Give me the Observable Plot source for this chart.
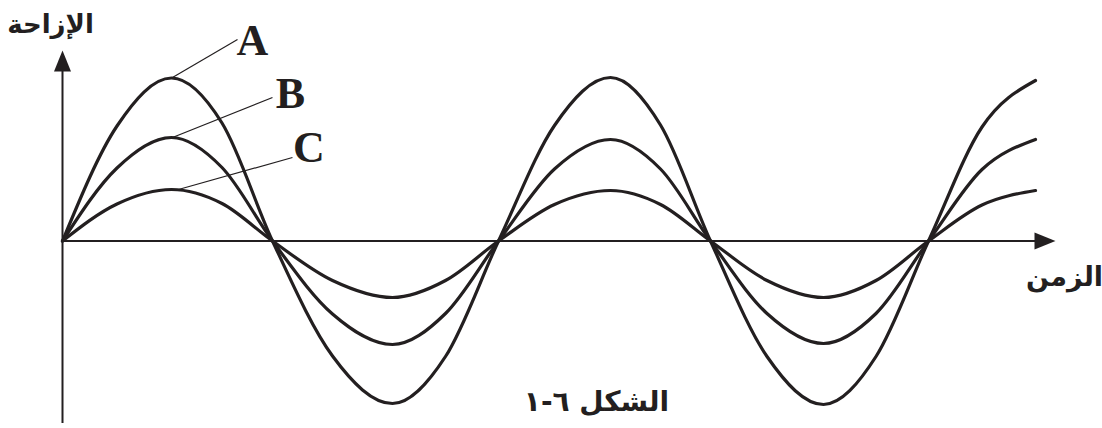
<!DOCTYPE html>
<html>
<head>
<meta charset="utf-8">
<script src="https://cdn.jsdelivr.net/npm/d3@7"></script>
<script src="https://cdn.jsdelivr.net/npm/@observablehq/plot@0.6"></script>
<style>
  html, body { margin: 0; padding: 0; background: #fff; }
</style>
</head>
<body>
<div id="chart"></div>
<script>
// Time (arbitrary units) of points read along the waves
const times = [0, 0.545, 1.09, 1.595, 2.10, 2.70, 3.30, 3.83, 4.36, 4.92, 5.48, 5.98, 6.48, 7.045, 7.61, 8.135, 8.66, 9.195, 9.73];
// Displacement of the three waves at those times
const seriesA = [0, 2.30, 3.26, 2.36, 0, -2.30, -3.25, -2.31, 0, 2.31, 3.27, 2.32, 0, -2.31, -3.27, -2.31, 0, 2.28, 3.21];
const seriesB = [0, 1.46, 2.07, 1.47, 0, -1.46, -2.07, -1.45, 0, 1.44, 2.03, 1.44, 0, -1.45, -2.05, -1.45, 0, 1.43, 2.03];
const seriesC = [0, 0.74, 1.03, 0.75, 0, -0.79, -1.13, -0.79, 0, 0.73, 1.01, 0.73, 0, -0.79, -1.13, -0.79, 0, 0.72, 1.01];
const seriesNames = ["A", "B", "C"];

// Label leader lines (from each curve's first peak to its letter)
const leaders = [
  {name: "A", x1: 1.10, y1: 3.27, x2: 1.75, y2: 4.03, lx: 1.90, ly: 4.00},
  {name: "B", x1: 1.10, y1: 2.07, x2: 2.10, y2: 2.87, lx: 2.28, ly: 2.95},
  {name: "C", x1: 1.16, y1: 1.03, x2: 2.30, y2: 1.67, lx: 2.465, ly: 1.86}
];

const yAxisTitle = "الإزاحة";
const xAxisTitle = "الزمن";
const caption = "الشكل ٦-١";

const ink = "#231f20";
const allSeries = [seriesA, seriesB, seriesC];
const rows = [];
seriesNames.forEach((name, i) => {
  times.forEach((t, j) => rows.push({name, t, v: allSeries[i][j]}));
});

// Filled arrowhead symbol (tip pointing up, drawn from its base centre)
const arrowHead = {
  draw(ctx) {
    ctx.moveTo(0, -21);
    ctx.lineTo(8.5, 0);
    ctx.lineTo(-8.5, 0);
    ctx.closePath();
  }
};

const chart = Plot.plot({
  width: 1102,
  height: 428,
  marginTop: 0, marginBottom: 0, marginLeft: 0, marginRight: 0,
  x: {domain: [-0.62, 10.40], axis: null},
  y: {domain: [-3.75, 4.81], axis: null},
  style: {background: "#fff"},
  marks: [
    // axes
    Plot.ruleY([0], {x1: 0, x2: 9.80, stroke: ink, strokeWidth: 2}),
    Plot.ruleX([0], {y1: -3.65, y2: 3.45, stroke: ink, strokeWidth: 2}),
    Plot.dot([{x: 0, y: 3.39}], {x: "x", y: "y", symbol: arrowHead, fill: ink, stroke: null, r: 5}),
    Plot.dot([{x: 9.72, y: 0}], {x: "x", y: "y", symbol: arrowHead, fill: ink, stroke: null, r: 5, rotate: 90}),
    // waves
    Plot.line(rows, {x: "t", y: "v", z: "name", curve: "monotone-x", stroke: ink, strokeWidth: 3.2}),
    // leader lines and labels
    Plot.link(leaders, {x1: "x1", y1: "y1", x2: "x2", y2: "y2", stroke: ink, strokeWidth: 1.2}),
    Plot.text(leaders, {x: "lx", y: "ly", text: "name", fontFamily: "Liberation Serif", fontWeight: "bold", fontSize: 44, fill: ink}),
    // axis titles and caption
    Plot.text([yAxisTitle], {x: -0.12, y: 4.33, text: d => d, fontFamily: "DejaVu Sans", fontWeight: "bold", fontSize: 26, fill: ink}),
    Plot.text([xAxisTitle], {x: 10.02, y: -0.72, text: d => d, fontFamily: "DejaVu Sans", fontWeight: "bold", fontSize: 27, fill: ink}),
    Plot.text([caption], {x: 5.34, y: -3.22, text: d => d, fontFamily: "DejaVu Sans", fontWeight: "bold", fontSize: 28, fill: ink})
  ]
});
document.getElementById("chart").appendChild(chart);
</script>
</body>
</html>
